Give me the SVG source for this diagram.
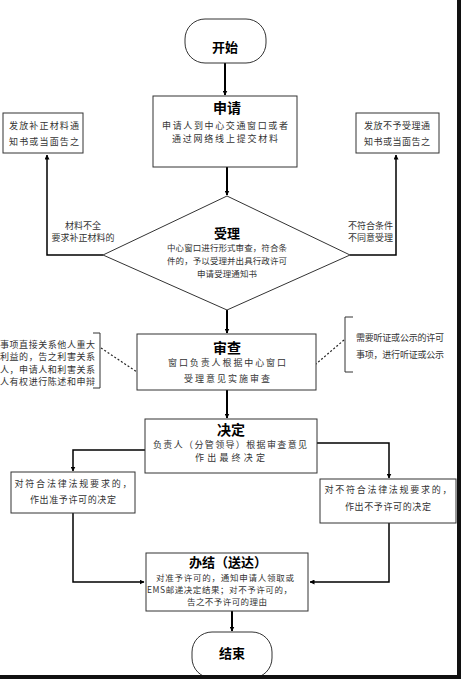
<svg xmlns="http://www.w3.org/2000/svg" width="461" height="679" viewBox="0 0 461 679">
<style>
.box{fill:#fff;stroke:#333;stroke-width:1}
.ln{fill:none;stroke:#000;stroke-width:2}
.dash{fill:none;stroke:#222;stroke-width:1.2;stroke-dasharray:2,2}
.br{fill:none;stroke:#333;stroke-width:1}
.t{font-family:"Noto Sans CJK SC","Noto Sans",sans-serif;font-size:9px;fill:#333;text-anchor:middle}
.tl{font-family:"Noto Sans CJK SC","Noto Sans",sans-serif;font-size:9px;fill:#333}
.h{font-family:"Noto Sans CJK SC",sans-serif;font-size:14px;font-weight:bold;fill:#000;text-anchor:middle}
</style>
<defs>
<marker id="ar" viewBox="0 0 10 10" refX="9" refY="5" markerWidth="5" markerHeight="5" orient="auto-start-reverse" markerUnits="userSpaceOnUse">
<path d="M0,0 L10,5 L0,10 z" fill="#000"/>
</marker>
</defs>
<rect x="0" y="0" width="461" height="679" fill="#fff"/>
<g id="connectors">
<line class="ln" x1="225" y1="63" x2="225" y2="95" marker-end="url(#ar)"/>
<line class="ln" x1="227" y1="167" x2="227" y2="195" marker-end="url(#ar)"/>
<polyline class="ln" points="103,255 47,255 47,155" marker-end="url(#ar)" style="stroke-width:1.5"/>
<polyline class="ln" points="350,255 396,255 396,155" marker-end="url(#ar)" style="stroke-width:1.5"/>
<line class="ln" x1="227" y1="310" x2="227" y2="333" marker-end="url(#ar)"/>
<line class="ln" x1="227" y1="390" x2="227" y2="418" marker-end="url(#ar)"/>
<polyline class="ln" points="145,450 73,450 73,471" marker-end="url(#ar)" style="stroke-width:1.5"/>
<polyline class="ln" points="317,443 389,443 389,478" marker-end="url(#ar)" style="stroke-width:1.5"/>
<polyline class="ln" points="73,513 73,582 144,582" marker-end="url(#ar)" style="stroke-width:1.5"/>
<polyline class="ln" points="389,523 389,582 310,582" marker-end="url(#ar)" style="stroke-width:1.5"/>
<line class="ln" x1="232" y1="611" x2="232" y2="631" marker-end="url(#ar)"/>
<line class="dash" x1="101" y1="348" x2="137" y2="372"/>
<line class="dash" x1="344" y1="340" x2="316" y2="364"/>
<text class="t" x="83" y="229">材料不全</text>
<text class="t" x="83" y="241">要求补正材料的</text>
<text class="tl" x="348" y="229">不符合条件</text>
<text class="tl" x="348" y="241">不同意受理</text>
</g>
<g id="start">
<rect class="box" x="185" y="19" width="81" height="44" rx="20" ry="20"/>
<text class="h" x="225" y="52" style="font-size:13px">开始</text>
</g>
<g id="apply">
<rect class="box" x="153" y="96" width="144" height="71"/>
<text class="h" x="227" y="113">申请</text>
<text class="t" x="225" y="129" textLength="126" lengthAdjust="spacing">申请人到中心交通窗口或者</text>
<text class="t" x="225" y="142" textLength="106" lengthAdjust="spacing">通过网络线上提交材料</text>
</g>
<g id="notice-left">
<rect class="box" x="3" y="113" width="80" height="40"/>
<text class="t" x="44" y="129" textLength="70" lengthAdjust="spacing">发放补正材料通</text>
<text class="t" x="44" y="145" textLength="70" lengthAdjust="spacing">知书或当面告之</text>
</g>
<g id="notice-right">
<rect class="box" x="356" y="113" width="83" height="40"/>
<text class="t" x="397" y="129" textLength="66" lengthAdjust="spacing">发放不予受理通</text>
<text class="t" x="397" y="145" textLength="66" lengthAdjust="spacing">知书或当面告之</text>
</g>
<g id="accept">
<polygon class="box" points="227,196 350,255 227,310 103,255"/>
<text class="h" x="227" y="238" style="font-size:13px">受理</text>
<text class="t" x="227" y="251" textLength="120" lengthAdjust="spacing" style="font-size:8.5px">中心窗口进行形式审查，符合条</text>
<text class="t" x="227" y="264" textLength="120" lengthAdjust="spacing" style="font-size:8.5px">件的，予以受理并出具行政许可</text>
<text class="t" x="227" y="277" textLength="60" lengthAdjust="spacing" style="font-size:8.5px">申请受理通知书</text>
</g>
<g id="note-left">
<polyline class="br" points="93,333 100,333 100,388 93,388"/>
<text class="tl" x="0" y="348" textLength="95" lengthAdjust="spacing">事项直接关系他人重大</text>
<text class="tl" x="0" y="360" textLength="95" lengthAdjust="spacing">利益的，告之利害关系</text>
<text class="tl" x="0" y="373" textLength="95" lengthAdjust="spacing">人，申请人和利害关系</text>
<text class="tl" x="0" y="385" textLength="95" lengthAdjust="spacing">人有权进行陈述和申辩</text>
</g>
<g id="note-right">
<polyline class="br" points="353,317 345,317 345,372 353,372"/>
<text class="tl" x="356" y="341" textLength="88" lengthAdjust="spacing">需要听证或公示的许可</text>
<text class="tl" x="356" y="358" textLength="88" lengthAdjust="spacing">事项，进行听证或公示</text>
</g>
<g id="review">
<rect class="box" x="137" y="334" width="179" height="56"/>
<text class="h" x="227" y="353">审查</text>
<text class="t" x="227" y="366" textLength="118" lengthAdjust="spacing">窗口负责人根据中心窗口</text>
<text class="t" x="227" y="382" textLength="86" lengthAdjust="spacing">受理意见实施审查</text>
</g>
<g id="decide">
<rect class="box" x="145" y="419" width="172" height="54"/>
<text class="h" x="231" y="435">决定</text>
<text class="t" x="230" y="448" textLength="154" lengthAdjust="spacing">负责人（分管领导）根据审查意见</text>
<text class="t" x="230" y="461" textLength="70" lengthAdjust="spacing">作出最终决定</text>
</g>
<g id="grant">
<rect class="box" x="11" y="472" width="124" height="41"/>
<text class="t" x="73" y="487" textLength="117" lengthAdjust="spacing">对符合法律法规要求的，</text>
<text class="t" x="73" y="503" textLength="86" lengthAdjust="spacing">作出准予许可的决定</text>
</g>
<g id="deny">
<rect class="box" x="320" y="479" width="136" height="44"/>
<text class="t" x="388" y="493" textLength="127" lengthAdjust="spacing">对不符合法律法规要求的，</text>
<text class="t" x="388" y="510" textLength="86" lengthAdjust="spacing">作出不予许可的决定</text>
</g>
<g id="finish">
<rect class="box" x="146" y="553" width="162" height="58"/>
<text class="h" x="228" y="567" style="font-size:13px">办结（送达）</text>
<text class="t" x="225" y="581" textLength="138" lengthAdjust="spacing" style="font-size:8.5px">对准予许可的，通知申请人领取或</text>
<text class="tl" x="147" y="593" textLength="145" lengthAdjust="spacing" style="font-size:8.5px">EMS邮递决定结果；对不予许可的，</text>
<text class="t" x="227" y="605" textLength="80" lengthAdjust="spacing" style="font-size:8.5px">告之不予许可的理由</text>
</g>
<g id="end">
<rect class="box" x="192" y="632" width="80" height="46" rx="20" ry="20"/>
<text class="h" x="232" y="658" style="font-size:13px">结束</text>
</g>
<rect x="457" y="0" width="4" height="679" fill="#111"/>
<rect x="0" y="675" width="461" height="4" fill="#111"/>
</svg>
